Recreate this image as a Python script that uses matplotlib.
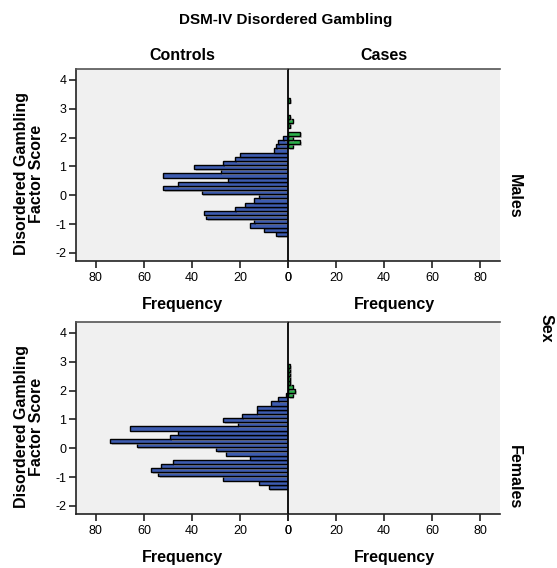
import matplotlib
matplotlib.use("Agg")
import matplotlib.pyplot as plt
import matplotlib.patheffects as pe
import numpy as np

plt.rcParams['font.family'] = ['Liberation Sans', 'DejaVu Sans']
plt.rcParams['axes.unicode_minus'] = False

# ---- data ----
bin_start = -1.41
bin_width = 0.1446

# counts by bin index (bin 0 = lowest score bin)
male_controls = [5, 10, 16, 14, 34, 35, 22, 18, 14, 12, 36, 52, 46, 25, 52, 28,
                 39, 27, 22, 20, 6, 5, 4, 2]
male_cases = [0]*21 + [2, 5, 2, 5, 0, 1, 2, 1, 0, 0, 0, 1]
female_controls = [8, 12, 27, 54, 57, 53, 48, 16, 26, 30, 63, 74, 49, 46, 66, 21,
                   27, 19, 13, 13, 7, 4, 1]
female_cases = [0]*22 + [2, 3, 2, 1, 1, 1, 1, 1]

col_labels = ["Controls", "Cases"]
row_labels = ["Males", "Females"]
x_ticks = [0, 20, 40, 60, 80]
y_ticks = [-2, -1, 0, 1, 2, 3, 4]

blue = '#3d5cb0'
green = '#2bb04a'
bg = '#f0f0f0'

W, H = 557, 568
fig = plt.figure(figsize=(W/100, H/100), dpi=100)

def fx(px):
    return px / W

def fy(py):
    return 1 - py / H

L, M, R = 76, 288, 500
rows = [(69, 261), (322, 514)]
data = [(male_controls, male_cases), (female_controls, female_cases)]
xmax = 88.3
ylim = (-2.28, 4.38)
shadow = [pe.SimplePatchShadow(offset=(1.2, -1.2), shadow_rgbFace='#999999', alpha=0.6), pe.Normal()]

for r, ((top, bot), (ctrl, case)) in enumerate(zip(rows, data)):
    axl = fig.add_axes([fx(L), fy(bot), fx(M - L), (bot - top) / H])
    axr = fig.add_axes([fx(M), fy(bot), fx(R - M), (bot - top) / H], sharey=axl)
    for ax, vals, col in ((axl, ctrl, blue), (axr, case, green)):
        ax.set_facecolor(bg)
        idx = np.arange(len(vals))
        centers = bin_start + (idx + 0.5) * bin_width
        v = np.array(vals, dtype=float)
        m = v > 0
        bars = ax.barh(centers[m], v[m], height=bin_width, color=col,
                       edgecolor='black', linewidth=1.0, zorder=3)
        for b in bars:
            b.set_path_effects(shadow)
        ax.set_xticks(x_ticks)
        ax.set_xticklabels([str(t) for t in x_ticks])
        ax.tick_params(axis='x', direction='out', length=5, width=1.2,
                       labelsize=9, pad=3, color='#222222')
        ax.set_ylim(*ylim)
        for s in ax.spines.values():
            s.set_linewidth(1.2)
        ax.spines['top'].set_color('#555555')
        ax.spines['bottom'].set_color('#222222')
        ax.set_xlabel('Frequency', fontsize=11.5, fontweight='bold', labelpad=9)
        ax.axvline(0, color='black', lw=1.3, zorder=4)
    axl.set_xlim(xmax, 0)
    axr.set_xlim(0, xmax)
    axl.spines['left'].set_color('#222222')
    axl.spines['right'].set_visible(False)
    axr.spines['left'].set_visible(False)
    axr.spines['right'].set_visible(False)
    axl.set_yticks(y_ticks)
    axl.set_yticklabels([str(t) for t in y_ticks])
    axl.tick_params(axis='y', direction='out', length=5, width=1.2, labelsize=9,
                    pad=2, color='#222222')
    axr.tick_params(axis='y', left=False, labelleft=False)

    cy = (top + bot) / 2
    fig.text(fx(29), fy(cy + 9), 'Disordered Gambling\nFactor Score', rotation=90,
             ha='center', va='center', fontsize=11.5, fontweight='bold',
             linespacing=1.0)
    fig.text(fx(514), fy(cy + 31 if r == 0 else cy + 59), row_labels[r],
             rotation=-90, ha='center', va='center', fontsize=11.5, fontweight='bold')

fig.text(fx(286), fy(20), 'DSM-IV Disordered Gambling', ha='center', va='center',
         fontsize=11, fontweight='bold')
fig.text(fx((L + M) / 2), fy(55), col_labels[0], ha='center', va='center',
         fontsize=11.5, fontweight='bold')
fig.text(fx((M + R) / 2 - 10), fy(55), col_labels[1], ha='center', va='center',
         fontsize=11.5, fontweight='bold')
fig.text(fx(546), fy(328), 'Sex', rotation=-90, ha='center', va='center',
         fontsize=11.5, fontweight='bold')

fig.savefig('out.png', dpi=100, facecolor='white')
